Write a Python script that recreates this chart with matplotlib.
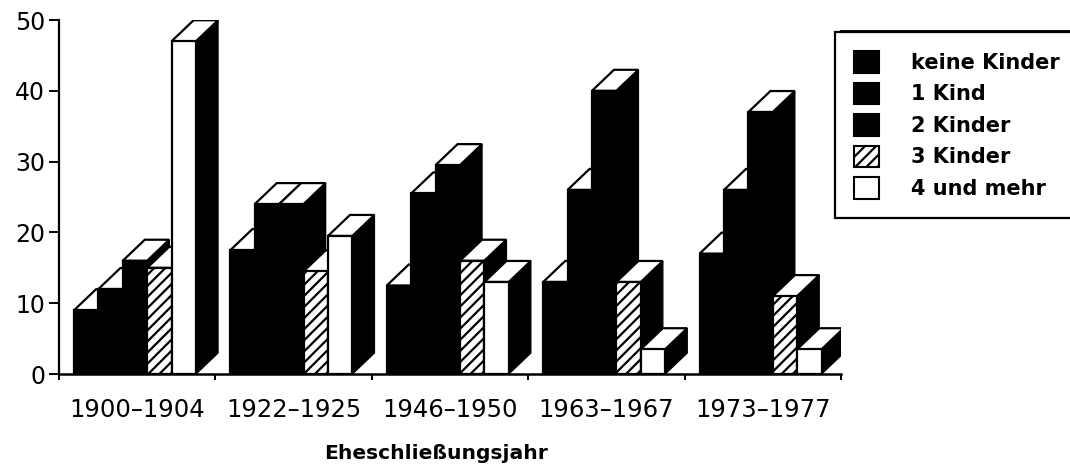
import matplotlib
matplotlib.use("Agg")
import matplotlib.pyplot as plt
from matplotlib.patches import Patch

plt.rcParams['hatch.linewidth'] = 1.6

groups = ['1900\u20131904', '1922\u20131925', '1946\u20131950', '1963\u20131967', '1973\u20131977']
labels = ['keine Kinder', '1 Kind', '2 Kinder', '3 Kinder', '4 und mehr']

keine = [9, 17.5, 12.5, 13, 17]
ein = [12, 24, 25.5, 26, 26]
zwei = [16, 24, 29.5, 40, 37]
drei = [15, 14.5, 16, 13, 11]
vier = [47, 19.5, 13, 3.5, 3.5]
series = [keine, ein, zwei, drei, vier]

W = 1070
H = 468

fig = plt.figure(figsize=(W / 100, H / 100), dpi=100)
ax = fig.add_axes([59 / W, (H - 374) / H, 782 / W, 354 / H])
ax.set_xlim(0, 5)
ax.set_ylim(0, 50)

bw = 24.4 / 156.4
dx = 22 / 156.4
dy = 21 / 7.08
start = 15 / 156.4

z = 3
for g in range(len(groups)):
    for i, s in enumerate(series):
        x0 = g + start + i * bw
        v = s[g]
        if i < 3:
            face, hatch = 'black', None
        elif i == 3:
            face, hatch = 'white', '///'
        else:
            face, hatch = 'white', None
        # seitenflaeche
        ax.fill([x0 + bw, x0 + bw + dx, x0 + bw + dx, x0 + bw],
                [0, dy, v + dy, v], color='black', lw=1, zorder=z)
        # deckel
        ax.fill([x0, x0 + dx, x0 + bw + dx, x0 + bw],
                [v, v + dy, v + dy, v], facecolor='white', edgecolor='black', lw=1.6, zorder=z)
        ax.bar(x0, v, width=bw, align='edge', facecolor=face, edgecolor='black',
               hatch=hatch, lw=1.6, zorder=z + 1)
        z += 2

for sp in ['top', 'right']:
    ax.spines[sp].set_visible(False)
ax.spines['left'].set_linewidth(1.6)
ax.spines['bottom'].set_linewidth(1.8)
ax.spines['bottom'].set_zorder(100)

ax.set_yticks([0, 10, 20, 30, 40, 50])
ax.tick_params(axis='y', length=7, width=1.4, labelsize=17, pad=3)
ax.set_xticks([0, 1, 2, 3, 4, 5])
ax.set_xticklabels([])
ax.tick_params(axis='x', length=4, width=1.4)

for g, name in enumerate(groups):
    ax.text(g + 0.5, -5.1, name, ha='center', va='center', fontsize=17.5)
ax.text(2.41, -11.2, 'Eheschließungsjahr', ha='center', va='center',
        fontsize=14.6, fontweight='bold')

handles = [Patch(facecolor=('black' if i < 3 else 'white'), edgecolor='black', lw=1.5,
                 hatch=('///' if i == 3 else None)) for i in range(5)]
leg = fig.legend(handles, labels, loc='upper left', bbox_to_anchor=(835 / W, 1 - 32 / H),
                 bbox_transform=fig.transFigure, fancybox=False, edgecolor='black',
                 framealpha=1, borderaxespad=0, borderpad=0.92, handlelength=1.2,
                 handleheight=1.2, handletextpad=1.55, labelspacing=0.47,
                 prop={'size': 15, 'weight': 'bold'})
leg.get_frame().set_linewidth(1.6)
fig.add_artist(plt.Line2D([842 / W, 1], [1 - 32 / H, 1 - 32 / H], color='black', lw=3.5,
                          transform=fig.transFigure))

fig.savefig('out.png', dpi=100)
